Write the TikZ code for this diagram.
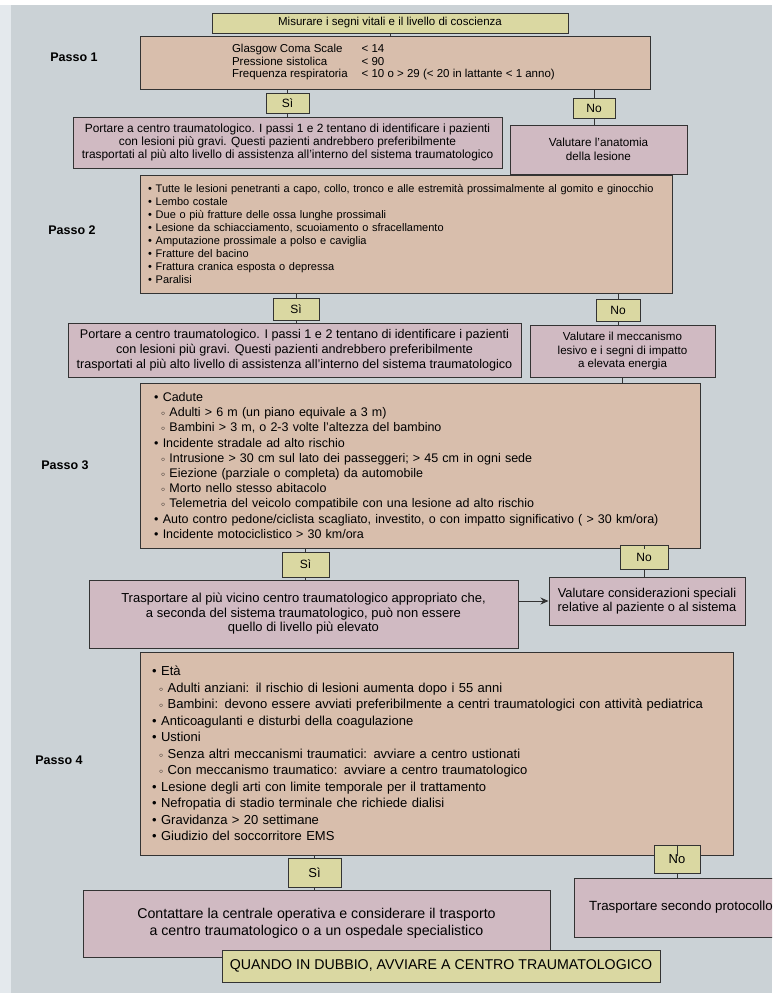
\documentclass[tikz,border=0pt]{standalone}
\usepackage{fontspec}
\setmainfont{Liberation Sans}
\usepackage{tikz}
\usetikzlibrary{arrows.meta}
\definecolor{pagina}{HTML}{CBD2D6}
\definecolor{margine}{HTML}{E4E9ED}
\definecolor{passocol}{HTML}{D8BEAC}
\definecolor{esitocol}{HTML}{D0BAC2}
\definecolor{sinocol}{HTML}{DAD8A2}
\tikzstyle{passobox} = [draw=black!80, fill=passocol, line width=1pt,
    rectangle, align=left, inner xsep=16pt, inner ysep=0pt]
\tikzstyle{esitobox} = [draw=black!80, fill=esitocol, line width=1pt,
    rectangle, align=center, inner sep=2pt]
\tikzstyle{sinobox} = [draw=black!80, fill=sinocol, line width=1pt,
    rectangle, inner sep=0pt, font=\fontsize{12}{14}\selectfont]
\tikzstyle{passolabel} = [font=\bfseries\fontsize{12.5}{15}\selectfont]
\tikzstyle{link} = [draw=black!80, line width=1pt]
\newcommand{\voce}{\textbullet\hspace{0.35em}}
\newcommand{\sotto}{\hspace*{7pt}\raisebox{0.15ex}{\scriptsize$\circ$}\hspace{0.35em}}

\begin{document}
\begin{tikzpicture}[x=1pt,y=-1pt]
    \useasboundingbox (0,0) rectangle (772,993);
    \clip (0,0) rectangle (772,993);
    \fill[pagina] (0,0) rectangle (772,993);
    \fill[margine] (0,0) rectangle (11,993);
    \fill[white] (0,0) rectangle (772,5);

    \node [sinobox, minimum width=356pt, minimum height=20pt,
        font=\fontsize{11.5}{13}\selectfont] (misura) at (390,23)
        {Misurare i segni vitali e il livello di coscienza};
    \node [passobox, align=center, minimum width=510pt, minimum height=53pt,
        font=\fontsize{11.5}{12.5}\selectfont] (passo1) at (395,62.5){
        \begin{tabular}{@{}l@{\hspace{14pt}}l@{}}
            Glasgow Coma Scale & < 14\\
            Pressione sistolica & < 90\\
            Frequenza respiratoria & < 10 o > 29 (< 20 in lattante < 1 anno)
        \end{tabular}
    };
    \node [passolabel] (lbl1) at (74,57) {Passo 1};

    \node [sinobox, minimum width=43pt, minimum height=20pt] (si1) at (287.5,103) {Sì};
    \node [sinobox, minimum width=42pt, minimum height=20pt] (no1) at (594,108) {No};
    \node [esitobox, minimum width=429pt, minimum height=51pt,
        font=\fontsize{11.9}{12.8}\selectfont] (portare1) at (287.5,142.5){
        Portare a centro traumatologico. I passi 1 e 2 tentano di identificare i pazienti\\
        con lesioni più gravi. Questi pazienti andrebbero preferibilmente\\
        trasportati al più alto livello di assistenza all'interno del sistema traumatologico
    };
    \node [esitobox, minimum width=177pt, minimum height=49pt,
        font=\fontsize{11.7}{14}\selectfont] (anatomia) at (598.5,149.5)
        {Valutare l'anatomia\\della lesione};

    \node [passobox, minimum width=532pt, minimum height=118pt, text width=516pt,
        inner xsep=8pt, font=\fontsize{11}{13}\selectfont] (passo2) at (406,234){
        \voce Tutte le lesioni penetranti a capo, collo, tronco e alle estremità prossimalmente al gomito e ginocchio\\
        \voce Lembo costale\\
        \voce Due o più fratture delle ossa lunghe prossimali\\
        \voce Lesione da schiacciamento, scuoiamento o sfracellamento\\
        \voce Amputazione prossimale a polso e caviglia\\
        \voce Fratture del bacino\\
        \voce Frattura cranica esposta o depressa\\
        \voce Paralisi
    };
    \node [passolabel] (lbl2) at (72,230) {Passo 2};

    \node [sinobox, minimum width=46pt, minimum height=22pt] (si2) at (296,309) {Sì};
    \node [sinobox, minimum width=44pt, minimum height=22pt] (no2) at (618,310) {No};
    \node [esitobox, minimum width=453pt, minimum height=54pt,
        font=\fontsize{12.6}{15}\selectfont] (portare2) at (294.5,350){
        Portare a centro traumatologico. I passi 1 e 2 tentano di identificare i pazienti\\
        con lesioni più gravi. Questi pazienti andrebbero preferibilmente\\
        trasportati al più alto livello di assistenza all'interno del sistema traumatologico
    };
    \node [esitobox, minimum width=185pt, minimum height=52pt,
        font=\fontsize{11.6}{13.5}\selectfont] (meccanismo) at (622.5,351)
        {Valutare il meccanismo\\lesivo e i segni di impatto\\a elevata energia};

    \node [passobox, minimum width=560pt, minimum height=165pt, text width=532pt,
        inner xsep=14pt, font=\fontsize{12.5}{15.2}\selectfont] (passo3) at (420,465.5){
        \voce Cadute\\
        \sotto Adulti > 6 m (un piano equivale a 3 m)\\
        \sotto Bambini > 3 m, o 2-3 volte l'altezza del bambino\\
        \voce Incidente stradale ad alto rischio\\
        \sotto Intrusione > 30 cm sul lato dei passeggeri; > 45 cm in ogni sede\\
        \sotto Eiezione (parziale o completa) da automobile\\
        \sotto Morto nello stesso abitacolo\\
        \sotto Telemetria del veicolo compatibile con una lesione ad alto rischio\\
        \voce Auto contro pedone/ciclista scagliato, investito, o con impatto significativo ( > 30 km/ora)\\
        \voce Incidente motociclistico > 30 km/ora
    };
    \node [passolabel] (lbl3) at (65,465) {Passo 3};

    \node [sinobox, minimum width=47pt, minimum height=25pt] (si3) at (305.5,564.5) {Sì};
    \node [sinobox, minimum width=48pt, minimum height=24pt] (no3) at (644,557) {No};
    \node [esitobox, minimum width=429pt, minimum height=68pt,
        font=\fontsize{13}{14.5}\selectfont] (vicino) at (303.5,614){
        Trasportare al più vicino centro traumatologico appropriato che,\\
        a seconda del sistema traumatologico, può non essere\\
        quello di livello più elevato
    };
    \node [esitobox, minimum width=196pt, minimum height=48pt,
        font=\fontsize{12.8}{14.5}\selectfont] (speciali) at (647,601)
        {Valutare considerazioni speciali\\relative al paziente o al sistema};

    \node [passobox, minimum width=593pt, minimum height=203pt, text width=569pt,
        inner xsep=12pt, font=\fontsize{13}{16.5}\selectfont] (passo4) at (436.5,753.5){
        \voce Età\\
        \sotto Adulti anziani: il rischio di lesioni aumenta dopo i 55 anni\\
        \sotto Bambini: devono essere avviati preferibilmente a centri traumatologici con attività pediatrica\\
        \voce Anticoagulanti e disturbi della coagulazione\\
        \voce Ustioni\\
        \sotto Senza altri meccanismi traumatici: avviare a centro ustionati\\
        \sotto Con meccanismo traumatico: avviare a centro traumatologico\\
        \voce Lesione degli arti con limite temporale per il trattamento\\
        \voce Nefropatia di stadio terminale che richiede dialisi\\
        \voce Gravidanza > 20 settimane\\
        \voce Giudizio del soccorritore EMS
    };
    \node [passolabel] (lbl4) at (59,760) {Passo 4};

    \node [sinobox, minimum width=53pt, minimum height=29pt,
        font=\fontsize{13}{15}\selectfont] (si4) at (314.5,872.5) {Sì};
    \node [sinobox, minimum width=46pt, minimum height=28pt,
        font=\fontsize{13}{15}\selectfont] (no4) at (677,859) {No};
    \node [esitobox, minimum width=467pt, minimum height=67pt,
        font=\fontsize{14.2}{17}\selectfont] (contattare) at (316.5,923.5){
        Contattare la centrale operativa e considerare il trasporto\\
        a centro traumatologico o a un ospedale specialistico
    };
    \node [esitobox, minimum width=213pt, minimum height=59pt,
        font=\fontsize{13.3}{15}\selectfont] (protocollo) at (681,907.5)
        {Trasportare secondo protocollo};
    \node [sinobox, minimum width=438pt, minimum height=32pt,
        font=\fontsize{14.2}{16}\selectfont] (quando) at (441,966)
        {QUANDO IN DUBBIO, AVVIARE A CENTRO TRAUMATOLOGICO};

    \draw[link] (misura) -- (misura |- passo1.north);
    \draw[link] (si1) -- (si1 |- passo1.south);
    \draw[link] (si1) -- (si1 |- portare1.north);
    \draw[link] (no1) -- (no1 |- passo1.south);
    \draw[link] (no1) -- (no1 |- anatomia.north);
    \draw[link] (anatomia) -- (anatomia |- passo2.north);
    \draw[link] (si2) -- (si2 |- passo2.south);
    \draw[link] (si2) -- (si2 |- portare2.north);
    \draw[link] (no2) -- (no2 |- passo2.south);
    \draw[link] (no2) -- (no2 |- meccanismo.north);
    \draw[link] (meccanismo) -- (meccanismo |- passo3.north);
    \draw[link] (si3) -- (si3 |- passo3.south);
    \draw[link] (si3) -- (si3 |- vicino.north);
    \draw[link] (no3) -- (no3 |- passo3.south);
    \draw[link] (no3) -- (no3 |- speciali.north);
    \draw[link, -{Stealth[length=8pt, width=7pt]}] (vicino.east |- speciali.west) -- (speciali.west);
    \draw[link] (si4) -- (si4 |- passo4.south);
    \draw[link] (si4) -- (si4 |- contattare.north);
    \draw[link] (no4) -- (no4 |- passo4.south);
    \draw[link] (no4) -- (no4 |- protocollo.north);
\end{tikzpicture}
\end{document}
